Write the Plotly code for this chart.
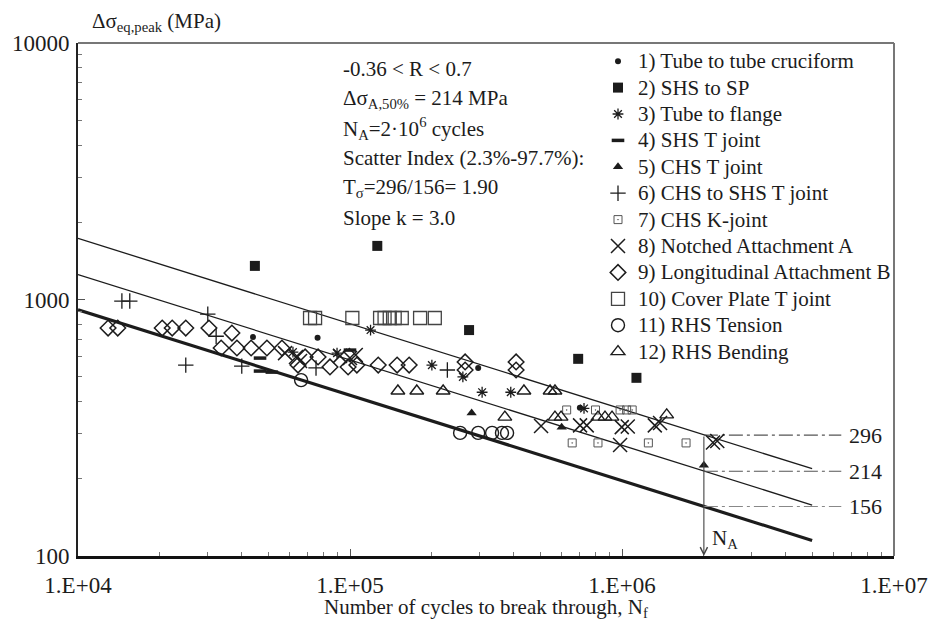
import math
import plotly.graph_objects as go

# ---------------- data ----------------
N1 = [4.4e4, 7.6e4, 2.96e5, 7.0e5]
S1 = [714, 710, 541, 378]

N2 = [4.47e4, 1.26e5, 2.74e5, 6.9e5, 1.13e6]
S2 = [1352, 1618, 760, 587, 495]

N3 = [6.17e4, 8.96e4, 1.19e5, 2.0e5, 2.6e5, 3.06e5, 3.9e5, 7.25e5]
S3 = [624, 618, 760, 555, 499, 435, 435, 376]

N4 = [4.67e4, 4.67e4, 5.16e4, 1.0e5]
S4 = [591, 526, 521, 635]

N5 = [2.8e5, 6.0e5, 2.0e6]
S5 = [361, 318, 226]

N6 = [1.45e4, 1.55e4, 2.49e4, 3.0e4, 3.22e4, 4.0e4, 7.5e4, 2.28e5]
S6 = [986, 986, 555, 877, 719, 550, 541, 531]

N7 = [6.26e5, 7.99e5, 9.84e5, 1.04e6, 1.09e6, 6.56e5, 8.16e5, 1.25e6, 1.72e6]
S7 = [371, 371, 371, 371, 371, 276, 276, 276, 276]

N8 = [5.77e4, 6.33e4, 6.55e4, 9.19e4, 1.0e5, 1.05e5, 5.04e5, 7.01e5, 7.42e5,
      9.98e5, 1.05e6, 1.32e6, 1.38e6, 9.84e5, 2.16e6, 2.24e6]
S8 = [618, 597, 576, 603, 591, 608, 321, 323, 323, 318, 320, 323, 330, 271, 277, 281]

N9 = [1.29e4, 1.40e4, 2.04e4, 2.22e4, 2.49e4, 3.03e4, 3.68e4, 3.36e4, 3.84e4, 4.33e4,
      4.95e4, 5.62e4, 6.44e4, 6.84e4, 7.63e4, 8.44e4, 9.84e4, 1.06e5, 1.27e5, 1.49e5,
      1.65e5, 2.65e5, 2.65e5, 4.08e5, 4.08e5]
S9 = [774, 774, 774, 774, 774, 774, 740, 647, 647, 647,
      647, 647, 555, 597, 597, 546, 546, 555, 555, 555,
      555, 571, 531, 571, 531]

N10 = [7.13e4, 7.44e4, 1.02e5, 1.29e5, 1.34e5, 1.40e5, 1.46e5, 1.55e5, 1.81e5, 2.05e5]
S10 = [847, 847, 847, 847, 847, 847, 847, 847, 847, 847]

N11 = [6.61e4, 2.54e5, 2.96e5, 3.33e5, 3.62e5, 3.78e5]
S11 = [485, 302, 302, 302, 302, 302]

N12 = [1.50e5, 1.76e5, 2.20e5, 3.71e5, 4.36e5, 5.44e5, 5.67e5, 5.67e5, 5.97e5,
       8.16e5, 8.66e5, 9.19e5, 1.46e6]
S12 = [440, 440, 440, 348, 440, 440, 440, 348, 348, 348, 348, 348, 355]

series_names = ["1) Tube to tube cruciform", "2) SHS to SP", "3) Tube to flange",
                "4) SHS T joint", "5) CHS T joint", "6) CHS to SHS T joint",
                "7) CHS K-joint", "8) Notched Attachment A",
                "9) Longitudinal Attachment B", "10) Cover Plate T joint",
                "11) RHS Tension", "12) RHS Bending"]

# fitted S-N lines (slope k = 3)
N_curve = [1e4, 5e6]
S_upper = [1731, 219]
S_mean = [1251, 158]
S_lower = [912, 115]

N_A = 2e6
N_ref_end = 6.4e6
N_ref_label = 6.7e6
ref_values = [296, 214, 156]

x_ticks = [1e4, 1e5, 1e6, 1e7]
x_ticktext = ["1.E+04", "1.E+05", "1.E+06", "1.E+07"]
y_ticks = [100, 1000, 10000]
y_ticktext = ["100", "1000", "10000"]

# ---------------- figure ----------------
FONT = "Liberation Serif"
INK = "#1c1c1c"

fig = go.Figure()

fig.add_trace(go.Scatter(x=N_curve, y=S_upper, mode="lines", showlegend=False,
                         line=dict(color=INK, width=1.3), hoverinfo="skip"))
fig.add_trace(go.Scatter(x=N_curve, y=S_mean, mode="lines", showlegend=False,
                         line=dict(color=INK, width=1.3), hoverinfo="skip"))
fig.add_trace(go.Scatter(x=N_curve, y=S_lower, mode="lines", showlegend=False,
                         line=dict(color=INK, width=3.2), hoverinfo="skip"))

for i, v in enumerate(ref_values):
    fig.add_trace(go.Scatter(x=[N_A, N_ref_end], y=[v, v], mode="lines", showlegend=False,
                             line=dict(color="#555555" if i < 2 else "#888888", width=1.1,
                                       dash="14px,4px,3px,4px"), hoverinfo="skip"))

def mk(symbol, size, lw=1.4, color=INK):
    return dict(symbol=symbol, size=size, color=color, line=dict(color=color, width=lw))

styles = [
    mk("circle", 6, 0),
    mk("square", 10, 0),
    mk("asterisk-open", 9, 1.3),
    mk("line-ew-open", 9, 3.5),
    mk("triangle-up", 9, 0),
    mk("cross-thin-open", 11, 1.3),
    mk("square-open-dot", 8, 1.0, "#555555"),
    mk("x-thin-open", 14, 1.5),
    mk("diamond-open", 12, 1.5),
    mk("square-open", 13, 1.3, "#444444"),
    mk("circle-open", 13, 1.4),
    mk("triangle-up-open", 12, 1.4),
]
Ns = [N1, N2, N3, N4, N5, N6, N7, N8, N9, N10, N11, N12]
Ss = [S1, S2, S3, S4, S5, S6, S7, S8, S9, S10, S11, S12]
for name, xs, ys, st in zip(series_names, Ns, Ss, styles):
    fig.add_trace(go.Scatter(x=xs, y=ys, mode="markers", marker=st,
                             name='<span style="font-size:21px">' + name + "</span>"))

# vertical arrow at N_A
fig.add_annotation(x=math.log10(N_A), y=math.log10(100), ax=math.log10(N_A),
                   ay=math.log10(ref_values[0]), xref="x", yref="y", axref="x", ayref="y",
                   showarrow=True, arrowhead=5, arrowsize=1.3, arrowwidth=1.1,
                   arrowcolor="#444444", text="")
fig.add_annotation(x=math.log10(N_A), y=math.log10(100), xref="x", yref="y",
                   text="N<sub>A</sub>", showarrow=False, xanchor="left", yanchor="bottom",
                   xshift=6, yshift=2, font=dict(size=21, family=FONT, color=INK))

for v in ref_values:
    fig.add_annotation(x=math.log10(N_ref_label), y=math.log10(v), xref="x", yref="y",
                       text=str(v), showarrow=False, xanchor="left", yanchor="middle",
                       font=dict(size=22, family=FONT, color=INK))

info_lines = ["-0.36 &lt; R &lt; 0.7",
              "Δσ<sub>A,50%</sub> = 214 MPa",
              "N<sub>A</sub>=2·10<sup>6</sup> cycles",
              "Scatter Index (2.3%-97.7%):",
              "T<sub>σ</sub>=296/156= 1.90",
              "Slope k = 3.0"]
info_y_px = [69, 99, 128, 158, 188, 218]
for txt, ypx in zip(info_lines, info_y_px):
    fig.add_annotation(x=(341 - 78) / 816, y=(556 - ypx) / 513, xref="paper", yref="paper",
                       text=txt, showarrow=False, xanchor="left", yanchor="middle",
                       font=dict(size=21, family=FONT, color=INK))

fig.add_annotation(x=(90 - 78) / 816, y=1 + (43 - 22) / 513, xref="paper", yref="paper",
                   text="Δσ<sub>eq,peak</sub> (MPa)", showarrow=False, xanchor="left",
                   yanchor="middle", font=dict(size=21, family=FONT, color=INK))
fig.add_annotation(x=0.5, y=-(608 - 556) / 513, xref="paper", yref="paper",
                   text="Number of cycles to break through, N<sub>f</sub>", showarrow=False,
                   xanchor="center", yanchor="middle", font=dict(size=21, family=FONT, color=INK))

# gray top/right frame
fig.add_shape(type="line", xref="paper", yref="paper", x0=0, x1=1, y0=1, y1=1,
              line=dict(color="#777777", width=2))
fig.add_shape(type="line", xref="paper", yref="paper", x0=1, x1=1, y0=0, y1=1,
              line=dict(color="#777777", width=2))

minor_x = [m * 10 ** e for e in (4, 5, 6) for m in range(2, 10)]
minor_y = [m * 10 ** e for e in (2, 3) for m in range(2, 10)]

fig.update_xaxes(type="log", range=[4, 7], tickmode="array", tickvals=x_ticks,
                 ticktext=x_ticktext, ticks="inside", ticklen=7, tickwidth=1,
                 tickcolor="#555555", showline=True, linecolor="#111111", linewidth=3,
                 showgrid=False, zeroline=False, ticklabelstandoff=6, automargin=False,
                 tickfont=dict(size=23, family=FONT, color=INK),
                 minor=dict(tickmode="array", tickvals=minor_x, ticks="inside",
                            ticklen=4, tickcolor="#777777", showgrid=False))
fig.update_yaxes(type="log", range=[2, 4], tickmode="array", tickvals=y_ticks,
                 ticktext=y_ticktext, ticks="inside", ticklen=7, tickwidth=1,
                 tickcolor="#555555", showline=True, linecolor="#222222", linewidth=1.6,
                 showgrid=False, zeroline=False, ticklabelstandoff=2, automargin=False,
                 tickfont=dict(size=23, family=FONT, color=INK),
                 minor=dict(tickmode="array", tickvals=minor_y, ticks="inside",
                            ticklen=4, tickcolor="#777777", showgrid=False))

fig.update_layout(
    width=931, height=625,
    margin=dict(l=78, r=37, t=43, b=69),
    paper_bgcolor="white", plot_bgcolor="white",
    font=dict(family=FONT, color=INK),
    legend=dict(x=(598 - 78) / 816, y=1, xanchor="left", yanchor="top",
                bgcolor="rgba(0,0,0,0)", borderwidth=0,
                font=dict(size=18, family=FONT, color=INK), itemwidth=30),
    showlegend=True,
)

fig.write_html("out.html", config={"displayModeBar": False},
               post_script="document.body.style.margin='0';document.body.style.overflow='hidden';")
